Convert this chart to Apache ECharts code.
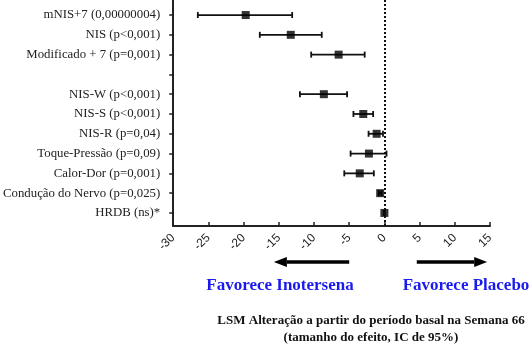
<!DOCTYPE html>
<html>
<head>
<meta charset="utf-8">
<script src="https://cdn.jsdelivr.net/npm/echarts@6/dist/echarts.min.js"></script>
<style>
html,body{margin:0;padding:0;background:#fff;}
#chart{width:532px;height:346px;}
</style>
</head>
<body>
<div id="chart"></div>
<script>
// Rows, top to bottom
const categories = ['mNIS+7 (0,00000004)', 'NIS (p<0,001)', 'Modificado + 7 (p=0,001)', '', 'NIS-W (p<0,001)', 'NIS-S (p<0,001)', 'NIS-R (p=0,04)', 'Toque-Pressão (p=0,09)', 'Calor-Dor (p=0,001)', 'Condução do Nervo (p=0,025)', 'HRDB (ns)*'];
const estimates = [-19.7, -13.3, -6.5, null, -8.6, -3.0, -1.1, -2.2, -3.5, -0.6, 0.0];
const lowerCI   = [-26.5, -17.7, -10.4, null, -12.0, -4.4, -2.25, -4.8, -5.7, -0.8, -0.05];
const upperCI   = [-13.1, -8.9, -2.8, null, -5.3, -1.6, -0.2, 0.3, -1.5, -0.4, 0.05];
const xMin = -30, xMax = 15, xStep = 5;
const leftNote = 'Favorece Inotersena';
const rightNote = 'Favorece Placebo';
const xTitle = 'LSM Alteração a partir do período basal na Semana 66\n(tamanho do efeito, IC de 95%)';

const n = categories.length;
const rowPos = categories.map((c, i) => n - 1 - i);
const pointData = [];
const barData = [];
categories.forEach((c, i) => {
  if (estimates[i] !== null) {
    pointData.push([estimates[i], rowPos[i]]);
    barData.push([lowerCI[i], upperCI[i], rowPos[i]]);
  }
});

const chart = echarts.init(document.getElementById('chart'), null, {renderer: 'canvas'});
const option = {
  animation: false,
  backgroundColor: '#fff',
  grid: {left: 171, right: 42, top: 0, bottom: 120, containLabel: false},
  xAxis: {
    type: 'value', min: xMin, max: xMax, interval: xStep,
    axisLine: {show: true, onZero: false, lineStyle: {color: '#222', width: 2}},
    axisTick: {show: true, inside: true, length: 4, lineStyle: {color: '#222', width: 1.5}},
    axisLabel: {rotate: 45, margin: 10, fontFamily: 'Liberation Sans', fontSize: 12, color: '#222'},
    splitLine: {show: false}
  },
  yAxis: {
    type: 'value', min: -0.66, max: 10.76,
    axisLine: {show: true, onZero: false, lineStyle: {color: '#222', width: 2}},
    axisTick: {show: true, length: 4, customValues: rowPos, lineStyle: {color: '#222', width: 1.5}},
    axisLabel: {
      customValues: rowPos, margin: 13,
      fontFamily: 'Liberation Serif', fontSize: 12.8, color: '#222',
      formatter: v => categories[n - 1 - Math.round(v)]
    },
    splitLine: {show: false}
  },
  series: [
    {
      type: 'custom',
      data: barData,
      renderItem: function (params, api) {
        const y = api.value(2);
        const a = api.coord([api.value(0), y]);
        const b = api.coord([api.value(1), y]);
        const h = 3;
        const st = {stroke: '#111', lineWidth: 1.8};
        return {
          type: 'group',
          children: [
            {type: 'line', shape: {x1: a[0], y1: a[1], x2: b[0], y2: b[1]}, style: st},
            {type: 'line', shape: {x1: a[0], y1: a[1] - h, x2: a[0], y2: a[1] + h}, style: st},
            {type: 'line', shape: {x1: b[0], y1: b[1] - h, x2: b[0], y2: b[1] + h}, style: st}
          ]
        };
      },
      z: 2
    },
    {
      type: 'scatter',
      data: pointData,
      symbol: 'rect',
      symbolSize: 8,
      itemStyle: {color: '#000'},
      z: 3,
      markLine: {
        silent: true,
        symbol: 'none',
        label: {show: false},
        lineStyle: {type: [2, 2], color: '#111', width: 2},
        data: [{xAxis: 0}]
      }
    }
  ],
  graphic: []
};
chart.setOption(option);

// Annotations below the axis
const px = v => chart.convertToPixel({xAxisIndex: 0}, v);
const arrowY = 262;
function arrow(x0, x1) {
  const dir = x1 > x0 ? 1 : -1;
  const head = 13;
  const baseX = x1 - dir * head;
  return [
    {type: 'line', shape: {x1: x0, y1: arrowY, x2: baseX, y2: arrowY}, style: {stroke: '#000', lineWidth: 3.5}},
    {type: 'polygon', shape: {points: [[x1, arrowY], [baseX, arrowY - 5], [baseX, arrowY + 5]]}, style: {fill: '#000'}}
  ];
}
const g = [].concat(
  arrow(px(-5), px(-15.7)),
  arrow(px(4.6), px(14.6)),
  [
    {type: 'text', x: 280, y: 286, style: {text: leftNote, fill: '#1a1aee', font: 'bold 17px "Liberation Serif"', align: 'center', verticalAlign: 'middle'}},
    {type: 'text', x: 466, y: 286, style: {text: rightNote, fill: '#1a1aee', font: 'bold 17px "Liberation Serif"', align: 'center', verticalAlign: 'middle'}},
    {type: 'text', x: 371, y: 329, style: {text: xTitle, fill: '#111', font: 'bold 13px "Liberation Serif"', align: 'center', verticalAlign: 'middle', lineHeight: 17}}
  ]
);
chart.setOption({graphic: g});
</script>
</body>
</html>
